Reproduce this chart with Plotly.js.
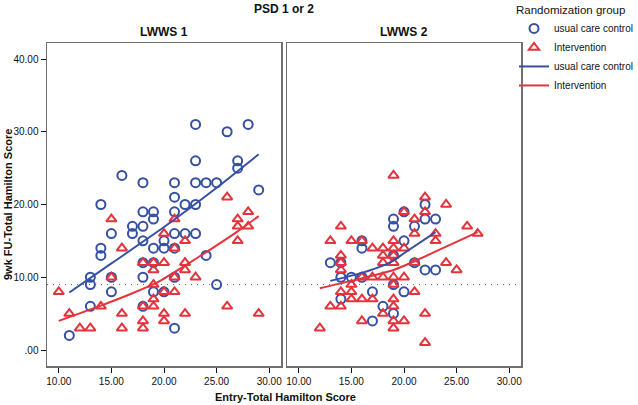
<!DOCTYPE html>
<html>
<head>
<meta charset="utf-8">
<script src="https://cdn.plot.ly/plotly-3.0.1.min.js"></script>
<style>html,body{margin:0;padding:0;background:#fff}#chart{width:638px;height:405px}</style>
</head>
<body>
<div id="chart"></div>
<script>
// ---- Data: LWWS 1 panel ----
const leftCtrlX = [11,13,13,13,14,14,14,15,15,15,16,17,17,18,18,18,18,18,18,18,19,19,19,19,19,20,20,20,21,21,21,21,21,21,21,22,22,23,23,23,23,23,24,24,25,25,26,27,27,28,29];
const leftCtrlY = [2,6,9,10,13,14,20,8,10,16,24,16,17,6,10,12,15,17,19,23,8,12,14,18,19,8,14,15,3,10,14,16,19,21,23,16,20,16,20,23,26,31,13,23,9,23,30,25,26,31,22];
const leftIntX = [10,11,12,13,14,15,15,16,16,16,18,18,18,18,19,19,19,19,19,20,20,20,20,20,21,21,21,21,22,22,22,22,23,26,26,27,27,27,28,28,29];
const leftIntY = [8,5,3,3,6,10,18,3,5,14,3,4,6,12,6,7,9,11,12,4,5,8,12,16,8,10,14,18,5,11,12,15,10,6,21,15,17,18,17,19,5];
const leftCtrlFitX = [11,15,20,25,29];
const leftCtrlFitY = [7.9,11.9,16.9,22.3,26.9];
const leftIntFitX = [10,14,17,19.5,22,24.5,27,29];
const leftIntFitY = [4.0,6.1,7.8,9.4,11.6,13.9,16.3,18.4];

// ---- Data: LWWS 2 panel ----
const rightCtrlX = [13,14,14,14,15,16,16,16,17,17,18,19,19,19,19,19,20,20,20,21,21,22,22,22,23,23];
const rightCtrlY = [12,7,10,12,10,10,14,15,4,8,6,5,9,13,17,18,8,15,19,12,17,11,18,20,11,18];
const rightIntX = [12,13,13,14,14,14,14,14,14,15,15,15,15,16,16,16,16,17,17,17,18,18,18,18,18,19,19,19,19,19,19,19,19,19,19,19,20,20,20,20,21,21,21,21,22,22,22,22,23,23,24,24,25,26,27];
const rightIntY = [3,6,15,6,8,11,12,13,17,7,8,9,15,4,7,10,15,7,10,14,5,10,12,13,14,3,4,6,7,9,10,12,13,14,15,24,4,10,14,19,8,12,16,18,1,5,19,21,15,16,12,20,11,17,16];
const rightCtrlFitX = [13,16,18,19,20,23];
const rightCtrlFitY = [9.5,10.6,11.6,12.3,13.3,16.2];
const rightIntFitX = [12,15,19,21,24,27];
const rightIntFitY = [8.5,9.5,11.0,12.2,14.2,16.2];

// ---- Labels / ticks ----
const groupNames = ['usual care control','Intervention'];
const panelNames = ['LWWS 1','LWWS 2'];
const xTickVals = [10,15,20,25,30];
const xTickText = ['10.00','15.00','20.00','25.00','30.00'];
const yTickVals = [0,10,20,30,40];
const yTickText = ['.00','10.00','20.00','30.00','40.00'];
const referenceLine = 9;

const BLUE = '#3550a3';
const RED = '#e5333c';
const FONT = 'Liberation Sans, Arial, sans-serif';

function pts(x, y, xa, ya, name, sym, color, show) {
  return {x, y, xaxis: xa, yaxis: ya, type: 'scatter', mode: 'markers', name,
    legendgroup: name + sym, showlegend: show,
    marker: {symbol: sym, size: 9, color: color, line: {width: 2, color: color}},
    hoverinfo: 'skip'};
}
function fit(x, y, xa, ya, name, color, show) {
  return {x, y, xaxis: xa, yaxis: ya, type: 'scatter', mode: 'lines', name,
    legendgroup: name + 'line', showlegend: show, line: {color, width: 2, shape: 'spline', smoothing: 0.6},
    hoverinfo: 'skip'};
}

const data = [
  pts(leftCtrlX, leftCtrlY, 'x', 'y', groupNames[0], 'circle-open', BLUE, true),
  pts(leftIntX, leftIntY, 'x', 'y', groupNames[1], 'triangle-up-open', RED, true),
  fit(leftCtrlFitX, leftCtrlFitY, 'x', 'y', groupNames[0], BLUE, true),
  fit(leftIntFitX, leftIntFitY, 'x', 'y', groupNames[1], RED, true),
  pts(rightCtrlX, rightCtrlY, 'x2', 'y2', groupNames[0], 'circle-open', BLUE, false),
  pts(rightIntX, rightIntY, 'x2', 'y2', groupNames[1], 'triangle-up-open', RED, false),
  fit(rightCtrlFitX, rightCtrlFitY, 'x2', 'y2', groupNames[0], BLUE, false),
  fit(rightIntFitX, rightIntFitY, 'x2', 'y2', groupNames[1], RED, false)
];

const W = 638, H = 405;
const M = {l: 47, r: 117, t: 43, b: 39, autoexpand: false};
const pw = W - M.l - M.r, ph = H - M.t - M.b;
const px = v => (v - M.l) / pw;       // pixel x -> paper
const py = v => 1 - (v - M.t) / ph;   // pixel y -> paper

const xCommon = {range: [8.88, 31.12], tickvals: xTickVals, ticktext: xTickText,
  showline: true, mirror: true, linecolor: '#707070', linewidth: 1.5, ticks: 'outside', ticklen: 5,
  tickcolor: '#111', showgrid: false, zeroline: false, automargin: false,
  tickfont: {family: FONT, size: 10, color: '#111'}};
const yCommon = {range: [-2.2, 42.2], tickvals: yTickVals, ticktext: yTickText,
  showline: true, mirror: true, linecolor: '#707070', linewidth: 1.5, showgrid: false, zeroline: false,
  automargin: false, tickfont: {family: FONT, size: 10, color: '#111'}};

const layout = {
  width: W, height: H, margin: M, paper_bgcolor: '#fff', plot_bgcolor: '#fff',
  font: {family: FONT, color: '#111'},
  xaxis: Object.assign({}, xCommon, {domain: [0, px(281)], anchor: 'y'}),
  xaxis2: Object.assign({}, xCommon, {domain: [px(287), 1], anchor: 'y2'}),
  yaxis: Object.assign({}, yCommon, {anchor: 'x', ticks: 'outside', ticklen: 5, tickcolor: '#111'}),
  yaxis2: Object.assign({}, yCommon, {anchor: 'x2', matches: 'y', showticklabels: false, ticks: ''}),
  showlegend: true,
  legend: {x: px(514), y: py(-1), xanchor: 'left', yanchor: 'top', bgcolor: 'rgba(0,0,0,0)',
    font: {family: FONT, size: 10, color: '#111'}, tracegroupgap: 0,
    title: {text: 'Randomization group', font: {family: FONT, size: 11.5, color: '#111'}}},
  shapes: [
    {type: 'line', xref: 'x domain', yref: 'y', x0: 0, x1: 1, y0: referenceLine, y1: referenceLine,
      line: {color: '#666', width: 1, dash: '1px,5px'}, layer: 'below'},
    {type: 'line', xref: 'x2 domain', yref: 'y2', x0: 0, x1: 1, y0: referenceLine, y1: referenceLine,
      line: {color: '#666', width: 1, dash: '1px,5px'}, layer: 'below'}
  ],
  annotations: [
    {text: '<b>PSD 1 or 2</b>', xref: 'paper', yref: 'paper', x: px(284), y: py(9), showarrow: false,
      font: {family: FONT, size: 12}, xanchor: 'center', yanchor: 'middle'},
    {text: '<b>' + panelNames[0] + '</b>', xref: 'paper', yref: 'paper', x: px(164), y: py(32), showarrow: false,
      font: {family: FONT, size: 12}, xanchor: 'center', yanchor: 'middle'},
    {text: '<b>' + panelNames[1] + '</b>', xref: 'paper', yref: 'paper', x: px(404), y: py(32), showarrow: false,
      font: {family: FONT, size: 12}, xanchor: 'center', yanchor: 'middle'},
    {text: '<b>Entry-Total Hamilton Score</b>', xref: 'paper', yref: 'paper', x: px(285), y: py(397), showarrow: false,
      font: {family: FONT, size: 11}, xanchor: 'center', yanchor: 'middle'},
    {text: '<b>9wk FU-Total Hamilton Score</b>', xref: 'paper', yref: 'paper', x: px(8), y: py(205), showarrow: false,
      textangle: -90, font: {family: FONT, size: 11}, xanchor: 'center', yanchor: 'middle'}
  ]
};

Plotly.newPlot('chart', data, layout, {displayModeBar: false, staticPlot: true});
</script>
</body>
</html>
